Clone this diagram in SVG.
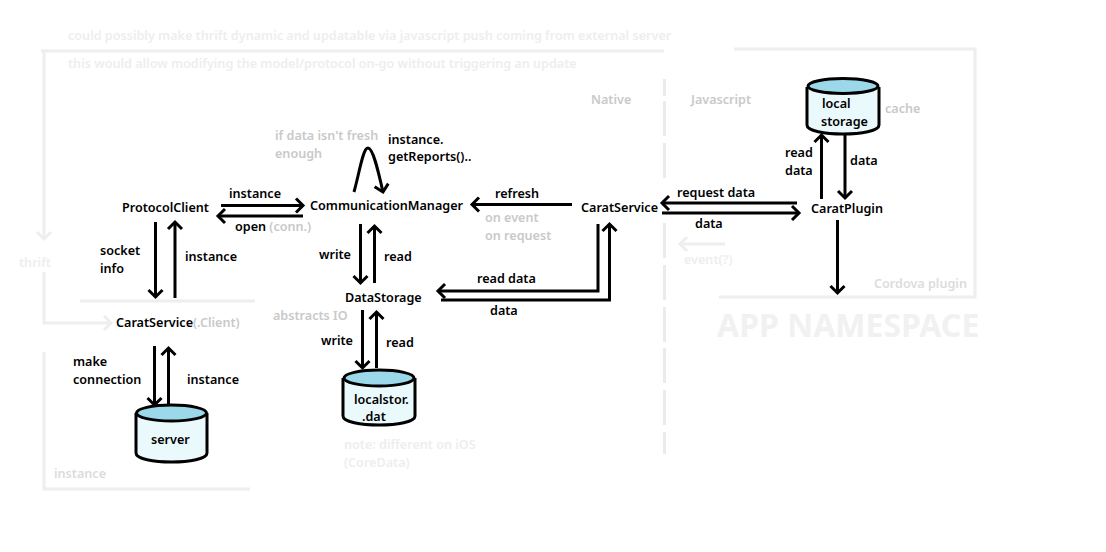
<svg xmlns="http://www.w3.org/2000/svg" width="1106" height="552" viewBox="0 0 1106 552">
<style>
text{font-family:"Noto Sans","Open Sans","Liberation Sans",sans-serif;font-size:12.6px;font-weight:600;fill:#000}
.g{fill:#c9c9c9}.f{fill:#eee}.m{fill:#dcdcdc}
.big{font-size:32px;font-weight:700;fill:#f1f1f1}
.a{fill:none;stroke:#000;stroke-width:3;marker-end:url(#ah)}
.l{fill:none;stroke:#eee;stroke-width:3}
.la{marker-end:url(#lh)}
.d{fill:none;stroke:#ebebeb;stroke-width:3}
.b{fill:#eaf9fb;stroke:#000;stroke-width:3}
.t{fill:#9bd9ea;stroke:#000;stroke-width:3}
</style>
<defs>
<marker id="ah" markerUnits="userSpaceOnUse" markerWidth="20" markerHeight="24" refX="14" refY="12" orient="auto" overflow="visible"><path d="M7 5L14 12L7 19" fill="none" stroke="#000" stroke-width="3"/></marker>
<marker id="lh" markerUnits="userSpaceOnUse" markerWidth="20" markerHeight="24" refX="14" refY="12" orient="auto" overflow="visible"><path d="M7 5L14 12L7 19" fill="none" stroke="#eee" stroke-width="3"/></marker>
</defs>
<g id="frames">
<path class="l la" d="M41 51H44V239"/>
<path class="l" d="M41 51H664"/>
<path class="l" d="M734 49H975V297H719"/>
<path class="l la" d="M44 272V323H111"/>
<path class="l" d="M80 301H255"/>
<path class="l" d="M44 352V489H250"/>
<path class="l la" d="M725 244H680"/>
<path class="d" d="M664.5 79V96M664.5 101V136M664.5 143V178M664.5 223V258M664.5 265V300M664.5 307V342M664.5 348V383M664.5 390V425M664.5 432V454"/>
</g>
<g id="connectors">
<path class="a" d="M221 205.500H303"/>
<path class="a" d="M303 216H218"/>
<path class="a" d="M572 204.500H472"/>
<path class="a" d="M797 203H662"/>
<path class="a" d="M662 213H799"/>
<path class="a" d="M821.500 199V135"/>
<path class="a" d="M845 135V198"/>
<path class="a" d="M837.500 220V293"/>
<path class="a" d="M155.500 222V297"/>
<path class="a" d="M175 298V222"/>
<path class="a" d="M360.500 224V283"/>
<path class="a" d="M374.500 283V226"/>
<path class="a" d="M598 224V291H438"/>
<path class="a" d="M441 300H609.500V224"/>
<path class="a" d="M362.500 310V368"/>
<path class="a" d="M376.500 368V312"/>
<path class="a" d="M154.500 346V405"/>
<path class="a" d="M168.500 404V348"/>
<path class="a" d="M354 192C360 170 363 148 368 148C373 148 378 170 383 192" stroke-width="2.600"/>
</g>
<g id="protocolclient"><text x="122" y="212">ProtocolClient</text></g>
<g id="communicationmanager"><text x="310" y="210">CommunicationManager</text></g>
<g id="caratservice"><text x="581" y="212">CaratService</text></g>
<g id="caratplugin"><text x="811" y="213">CaratPlugin</text></g>
<g id="datastorage"><text x="345" y="302">DataStorage</text></g>
<g id="caratservice-client"><text x="116" y="327">CaratService<tspan class="g">(.Client)</tspan></text></g>
<g id="server">
<path class="b" d="M136 413V453C136 465 207 465 207 453V413"/>
<ellipse class="t" cx="171.500" cy="413" rx="35" ry="8"/>
<text x="151" y="444">server</text>
</g>
<g id="localstor">
<path class="b" d="M343 378V416C343 428 415 428 415 416V378"/>
<ellipse class="t" cx="379" cy="378" rx="35" ry="8"/>
<text x="354" y="404">localstor.</text>
<text x="362" y="421">.dat</text>
</g>
<g id="localstorage">
<path class="b" d="M807 87V125C807 137 879 137 879 125V87"/>
<ellipse class="t" cx="843" cy="86" rx="35" ry="7.500"/>
<text x="822" y="108">local</text>
<text x="821" y="126">storage</text>
</g>
<g id="labels">
<text class="f" x="68" y="40">could possibly make thrift dynamic and updatable via javascript push coming from external server</text>
<text class="f" x="68" y="68">this would allow modifying the model/protocol on-go without triggering an update</text>
<text class="g" x="591" y="104">Native</text>
<text class="g" x="691" y="104">Javascript</text>
<text class="g" x="885" y="113">cache</text>
<text class="g" x="275" y="140">if data isn't fresh</text>
<text class="g" x="275" y="158">enough</text>
<text x="388" y="144">instance.</text>
<text x="388" y="161">getReports()..</text>
<text x="229" y="198">instance</text>
<text x="235" y="231">open <tspan class="g">(conn.)</tspan></text>
<text x="495" y="198">refresh</text>
<text class="g" x="485" y="222">on event</text>
<text class="g" x="485" y="240">on request</text>
<text x="677" y="197">request data</text>
<text x="695" y="228">data</text>
<text class="f" x="684" y="264">event(?)</text>
<text x="785" y="157">read</text>
<text x="785" y="175">data</text>
<text x="850" y="165">data</text>
<text x="100" y="255">socket</text>
<text x="100" y="273">info</text>
<text x="185" y="261">instance</text>
<text class="f" x="19" y="267">thrift</text>
<text x="319" y="259">write</text>
<text x="384" y="261">read</text>
<text x="477" y="283">read data</text>
<text x="490" y="315">data</text>
<text class="g" x="273" y="320">abstracts IO</text>
<text x="321" y="345">write</text>
<text x="386" y="347">read</text>
<text x="73" y="366">make</text>
<text x="73" y="384">connection</text>
<text x="187" y="384">instance</text>
<text class="m" x="54" y="478">instance</text>
<text class="f" x="344" y="449">note: different on iOS</text>
<text class="f" x="344" y="467">(CoreData)</text>
<text class="m" x="874" y="288">Cordova plugin</text>
<text class="big" x="717" y="337">APP NAMESPACE</text>
</g>
</svg>
